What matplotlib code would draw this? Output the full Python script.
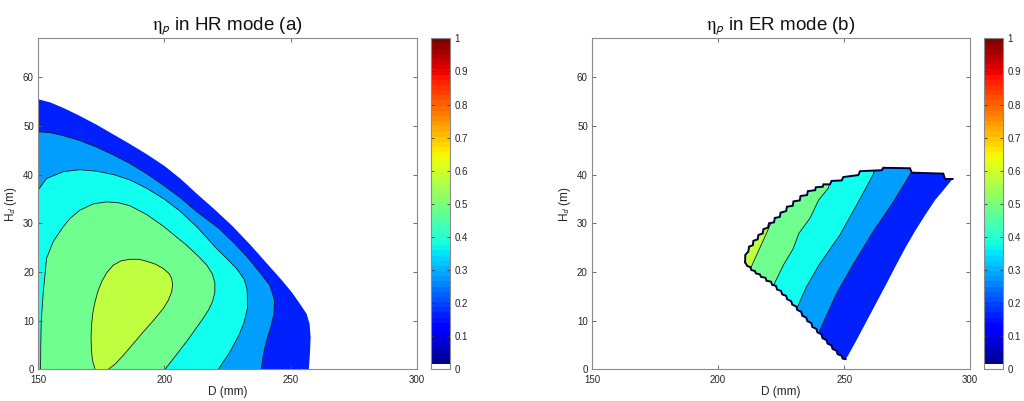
import numpy as np
import matplotlib
matplotlib.use('Agg')
import matplotlib.pyplot as plt
from matplotlib.colors import ListedColormap, Normalize
from matplotlib.cm import ScalarMappable

plt.rcParams['font.family'] = ['Liberation Sans', 'DejaVu Sans']
plt.rcParams['mathtext.fontset'] = 'stix'

titles = [r'$\mathrm{\eta}_\mathsf{p}$ in HR mode (a)', r'$\mathrm{\eta}_\mathsf{p}$ in ER mode (b)']
x_ticks = [150, 200, 250, 300]
y_ticks = [0, 10, 20, 30, 40, 50, 60]
cbar_ticks = [0, 0.1, 0.2, 0.3, 0.4, 0.5, 0.6, 0.7, 0.8, 0.9, 1]
cbar_labels = ['0', '0.1', '0.2', '0.3', '0.4', '0.5', '0.6', '0.7', '0.8', '0.9', '1']
levels = [0.1, 0.2, 0.3, 0.4, 0.5]

# HR mode: edge of the valid region and the iso-efficiency lines, (D in mm, H_d in m)
hr_edge = [(150, 55.5), (155, 54.8), (160, 53.7), (166, 52.2), (173, 50.3), (180, 48.2),
           (186, 46.4), (193, 44.2), (200, 41.8), (206.5, 39.1), (213, 36.0), (220, 32.8),
           (227, 29.4), (234, 25.6), (240.5, 21.8), (246, 18.6), (250.5, 15.8), (254, 13.2),
           (256.3, 11.4), (257.5, 9.3), (257.9, 6.5), (257.6, 3.0), (257.2, 0)]
hr_c02 = [(150, 48.8), (155, 48.6), (160, 48.0), (166, 47.1), (173, 45.7), (180, 44.0),
          (186, 42.4), (193, 40.2), (200, 37.7), (206.5, 35.2), (212.8, 32.4),
          (221.5, 29.0), (227.5, 26.0), (232.6, 23.2), (238, 19.8), (241.8, 17.2), (243.6, 14.2),
          (243.4, 11.5), (242.2, 8.8), (240.5, 6.0), (239.2, 3.0), (238.4, 0)]
hr_c03 = [(150, 36.8), (153.4, 39.2), (160, 40.6), (166.6, 41.0), (173.2, 40.7), (180, 40.0),
          (186.4, 38.9), (193, 37.2), (199.6, 35.1), (206, 32.6), (213, 29.2), (220.7, 24.8),
          (225, 22.6), (228.6, 20.7), (231.6, 18.5), (232.8, 16.3), (232.9, 12.5), (231.5, 9.5),
          (229.5, 7.0), (226, 3.6), (221.4, 0)]
hr_c04 = [(151, 0), (151.1, 5), (151.3, 10), (152.1, 15.9), (153.4, 22.8), (156, 26.2),
          (160, 29.3), (162.7, 31.0), (166.6, 32.7), (172, 34.0), (177.2, 34.4), (182, 34.2),
          (186.4, 33.6), (193, 31.8), (199.6, 29.4), (208.8, 25.5), (213.5, 23.2), (216.8, 21.4),
          (219.0, 19.6), (220.0, 17.8), (220.0, 15.8), (219.0, 13.8), (217.5, 12.2), (215.4, 10.5),
          (212, 8.0), (208.8, 5.7), (204.5, 2.8), (200.3, 0)]
hr_c05 = [(172.6, 0), (171.6, 1.8), (171.2, 3.6), (171.0, 6.4), (171.2, 9.1), (171.7, 11.6),
          (172.6, 13.9), (173.7, 16.0), (175.2, 18.0), (177.3, 19.9), (179.8, 21.4), (183, 22.3),
          (186.4, 22.6), (190, 22.6), (193, 22.2), (196.5, 21.6), (199.6, 20.7), (201.8, 19.7),
          (202.9, 18.7), (203.3, 17.3), (202.9, 15.9), (201.6, 14.2), (199.6, 12.5), (195.8, 10.1),
          (191.7, 7.7), (187.6, 5.2), (183.8, 2.9), (180.6, 1.1), (177.8, 0)]

# ER mode: stepped upper and lower edges, smooth right edge
er_upper = [(210.7, 22.0), (210.8, 23.5), (212.0, 24.2), (212.3, 25.2), (213.8, 25.5), (214.0, 26.4),
            (215.7, 26.7), (216.0, 27.6), (217.7, 27.9), (218.0, 28.8), (219.8, 29.1), (220.2, 30.0),
            (222.2, 30.2), (222.5, 31.1), (224.5, 31.3), (224.8, 32.2), (227.0, 32.5), (227.3, 33.4),
            (229.6, 33.6), (229.9, 34.5), (232.4, 34.7), (232.7, 35.6), (235.3, 35.8), (235.6, 36.6),
            (238.5, 36.8), (238.8, 37.4), (241.5, 37.5), (241.8, 38.0), (244.4, 38.0), (245.0, 38.7),
            (249.0, 38.8), (249.7, 39.5), (255.6, 39.9), (256.3, 40.7), (264.9, 40.9), (265.5, 41.4),
            (276.1, 41.3), (276.8, 40.4), (289.3, 40.2), (290.0, 39.1), (293.0, 39.1)]
er_right = [(293.0, 39.1), (289.5, 36.9), (286.1, 34.8), (282.0, 31.6), (278.0, 28.3), (274.2, 24.9),
            (270.3, 21.1), (266.5, 17.3), (262.5, 13.4), (258.4, 9.4), (254.5, 5.6), (251.5, 2.8),
            (250.6, 2.1)]
er_lower = [(210.7, 22.0), (211.6, 21.2), (212.8, 21.0), (213.2, 20.4), (214.6, 20.2), (215.0, 19.7),
            (216.6, 19.5), (217.0, 19.0), (218.8, 18.8), (219.2, 18.2), (221.0, 18.0), (221.4, 17.4),
            (223.0, 17.1), (223.4, 16.4), (225.0, 16.1), (225.4, 15.4), (227.0, 15.1), (227.4, 14.4),
            (229.0, 14.0), (229.4, 13.3), (231.0, 12.9), (231.4, 12.2), (233.0, 11.8), (233.4, 11.0),
            (235.0, 10.6), (235.4, 9.9), (237.0, 9.5), (237.4, 8.7), (239.0, 8.3), (239.4, 7.6),
            (241.0, 7.2), (241.4, 6.4), (243.0, 6.0), (243.4, 5.3), (245.0, 4.9), (245.4, 4.2),
            (247.0, 3.8), (247.4, 3.1), (249.0, 2.8), (249.4, 2.2), (250.6, 2.1)]
er_c02 = [(277.6, 41.6), (276.8, 40.6), (269.5, 34.4), (261.5, 28.3), (253.6, 21.6), (247, 15.6),
          (240.4, 8.1), (239.8, 7.2)]
er_c03 = [(262.3, 41.5), (261.5, 40.0), (254.9, 33.7), (248.3, 27.6), (240.0, 21.4), (235.1, 17.0),
          (231.8, 13.2), (231.0, 12.0)]
er_c04 = [(244.5, 38.6), (243.7, 37.2), (239.9, 34.8), (236.4, 31.0), (232.0, 27.9), (229.8, 24.8),
          (226.0, 21.5), (222.7, 18.0), (222.0, 17.0)]
er_c05 = [(221.4, 30.5), (216.8, 25.2), (212.6, 20.4), (212.2, 19.8)]

# band colours = MATLAB jet(64) entries used by contourf
band_colors = [(0, 0.125, 1), (0, 0.625, 1), (0.0625, 1, 0.9375), (0.4375, 1, 0.5625), (0.75, 1, 0.25)]
jet64 = plt.cm.jet(np.linspace(0, 1, 64))
jet64[0] = (1, 1, 1, 1)
cmap = ListedColormap(jet64)

spine_c = '#8a8a8a'
text_c = '#262626'


def style_axes(ax, title):
    ax.set_xlim(150, 300)
    ax.set_ylim(0, 68)
    ax.set_xticks(x_ticks)
    ax.set_yticks(y_ticks)
    ax.tick_params(direction='in', top=True, right=True, length=3, width=0.6,
                   color='#555555', labelcolor=text_c, labelsize=7)
    ax.tick_params(axis='x', pad=4)
    ax.tick_params(axis='y', pad=3)
    for s in ax.spines.values():
        s.set_color(spine_c)
        s.set_linewidth(0.8)
    ax.set_xlabel('D (mm)', fontsize=8.5, color=text_c, labelpad=1)
    ax.set_ylabel(r'H$_\mathsf{d}$ (m)', fontsize=8.5, color=text_c, labelpad=3)
    ax.set_title(title, fontsize=13.5, color='#111111', pad=6)


def add_cbar(fig, rect):
    cax = fig.add_axes(rect)
    cb = fig.colorbar(ScalarMappable(Normalize(0, 1), cmap), cax=cax, ticks=cbar_ticks)
    cb.ax.set_yticklabels(cbar_labels)
    cb.outline.set_edgecolor(spine_c)
    cb.outline.set_linewidth(0.8)
    cax.tick_params(direction='in', left=True, right=True, length=2.5, width=0.6,
                    color='#333333', labelcolor=text_c, labelsize=7, pad=3)


def xy(pts):
    return [p[0] for p in pts], [p[1] for p in pts]


fig = plt.figure(figsize=(10.24, 4.01), dpi=100)

# (a) HR mode
ax1 = fig.add_axes([0.0371, 0.079, 0.3701, 0.8255])
ax1.fill(*xy(hr_edge + [(150, 0)]), color=band_colors[0], lw=0)
for line, col in zip([hr_c02, hr_c03, hr_c04, hr_c05], band_colors[1:]):
    ax1.fill(*xy(line + [(150, 0)]), color=col, lw=0)
    ax1.plot(*xy(line), color='#1a1a1a', lw=0.6)
style_axes(ax1, titles[0])
add_cbar(fig, [0.4209, 0.079, 0.0186, 0.8255])

# (b) ER mode
ax2 = fig.add_axes([0.5781, 0.079, 0.3694, 0.8255])
domain = ax2.fill(*xy(er_upper + er_right + er_lower[::-1]), color=band_colors[0], lw=0)[0]
for line, col in zip([er_c02, er_c03, er_c04, er_c05], band_colors[1:]):
    region = line + [(150, 0), (150, 68), (line[0][0], 68)]
    p = ax2.fill(*xy(region), color=col, lw=0)[0]
    p.set_clip_path(domain)
    l = ax2.plot(*xy(line), color='#1a1a1a', lw=0.6)[0]
    l.set_clip_path(domain)
ax2.plot(*xy(er_upper), color='#000033', lw=1.4, solid_joinstyle='miter')
ax2.plot(*xy(er_lower), color='#000033', lw=1.4, solid_joinstyle='miter')
style_axes(ax2, titles[1])
add_cbar(fig, [0.9609, 0.079, 0.0186, 0.8255])

fig.savefig('out.png', dpi=100)
